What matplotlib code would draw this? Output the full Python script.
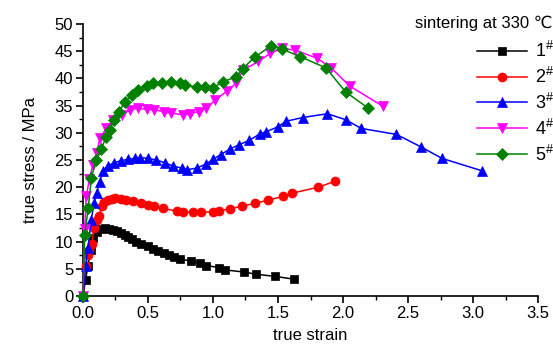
import matplotlib
matplotlib.use("Agg")
import matplotlib.pyplot as plt
from matplotlib.ticker import MultipleLocator

plt.rcParams['font.family'] = ['Liberation Sans', 'DejaVu Sans']
plt.rcParams['mathtext.fontset'] = 'custom'
plt.rcParams['mathtext.rm'] = 'Liberation Sans'

# Series 1#
x1 = [0, 0.02, 0.038, 0.06, 0.08, 0.11, 0.14, 0.17, 0.20, 0.23, 0.26, 0.29, 0.32, 0.35, 0.38,
      0.41, 0.45, 0.50, 0.54, 0.58, 0.62, 0.66, 0.70, 0.75, 0.83, 0.90, 0.95, 1.05, 1.09,
      1.24, 1.33, 1.48, 1.62]
y1 = [0, 3.0, 5.5, 8.5, 10.6, 11.8, 12.3, 12.5, 12.4, 12.2, 11.9, 11.6, 11.2, 10.8, 10.4,
      10.0, 9.6, 9.1, 8.7, 8.3, 7.9, 7.5, 7.2, 6.8, 6.4, 6.0, 5.6, 5.2, 4.8,
      4.4, 4.0, 3.6, 3.1]

# Series 2#
x2 = [0, 0.02, 0.035, 0.05, 0.067, 0.085, 0.105, 0.125, 0.145, 0.165, 0.19, 0.22, 0.25,
      0.29, 0.33, 0.385, 0.45, 0.50, 0.55, 0.615, 0.72, 0.77, 0.85, 0.91, 1.0, 1.05, 1.13,
      1.22, 1.32, 1.42, 1.54, 1.61, 1.81, 1.94]
y2 = [0, 5.5, 7.5, 8.5, 9.5, 12.5, 14.0, 14.7, 16.5, 17.2, 17.6, 17.9, 18.0,
      17.9, 17.7, 17.4, 17.1, 16.8, 16.5, 16.1, 15.6, 15.5, 15.4, 15.4, 15.5, 15.7, 16.0,
      16.5, 17.0, 17.6, 18.3, 18.9, 20.0, 21.1]

# Series 3#
x3 = [0, 0.02, 0.038, 0.064, 0.085, 0.105, 0.128, 0.155, 0.19, 0.24, 0.295, 0.35, 0.40,
      0.44, 0.50, 0.56, 0.63, 0.69, 0.76, 0.80, 0.875, 0.95, 1.0, 1.06, 1.13, 1.2, 1.28,
      1.36, 1.41, 1.50, 1.56, 1.69, 1.88, 2.02, 2.14, 2.41, 2.6, 2.76, 3.07]
y3 = [0, 5.5, 8.8, 14.0, 17.0, 19.0, 21.0, 23.0, 23.9, 24.5, 24.9, 25.1, 25.3,
      25.4, 25.3, 25.0, 24.5, 23.9, 23.5, 23.2, 23.5, 24.3, 25.1, 26.0, 27.0, 27.8, 28.6,
      29.8, 30.2, 31.1, 32.1, 32.8, 33.5, 32.4, 30.8, 29.7, 27.4, 25.3, 23.0]

# Series 4#
x4 = [0, 0.013, 0.025, 0.05, 0.075, 0.105, 0.13, 0.18, 0.233, 0.30, 0.36, 0.425, 0.49,
      0.55, 0.62, 0.68, 0.77, 0.82, 0.89, 0.95, 1.015, 1.105, 1.18, 1.23, 1.35, 1.44, 1.53,
      1.63, 1.80, 1.91, 2.05, 2.305]
y4 = [0, 12.4, 18.3, 21.5, 24.0, 26.2, 29.0, 30.8, 32.4, 33.3, 34.2, 34.5, 34.3,
      34.2, 33.9, 33.6, 33.3, 33.5, 33.9, 34.5, 36.0, 37.6, 39.1, 41.5, 43.1, 44.6, 45.5,
      45.2, 43.7, 41.9, 38.6, 34.9]

# Series 5#
x5 = [0, 0.013, 0.04, 0.064, 0.10, 0.14, 0.18, 0.205, 0.24, 0.28, 0.32, 0.375, 0.425,
      0.49, 0.54, 0.605, 0.68, 0.75, 0.785, 0.875, 0.94, 1.0, 1.08, 1.18, 1.23, 1.32, 1.45,
      1.53, 1.67, 1.87, 2.02, 2.19]
y5 = [0, 11.2, 16.1, 21.6, 25.0, 27.0, 29.3, 30.5, 32.4, 33.9, 35.6, 37.0, 37.9,
      38.6, 39.1, 39.1, 39.4, 39.1, 38.8, 38.4, 38.4, 38.3, 39.4, 40.3, 41.8, 43.9, 46.0,
      45.4, 44.0, 41.9, 37.5, 34.6]

labels = ['1', '2', '3', '4', '5']
colors = ['black', 'red', 'blue', 'magenta', 'green']
markers = ['s', 'o', '^', 'v', 'D']
msizes = [5.8, 6.5, 7, 7, 6]
xs = [x1, x2, x3, x4, x5]
ys = [y1, y2, y3, y4, y5]

fig = plt.figure(figsize=(5.53, 3.47), dpi=100)
ax = fig.add_axes([0.150, 0.147, 0.823, 0.784])

handles = []
for x, y, c, m, ms, lab in zip(xs, ys, colors, markers, msizes, labels):
    h, = ax.plot(x, y, color=c, marker=m, markersize=ms, linewidth=1.1,
                 markeredgewidth=0.5, markeredgecolor=c,
                 label=r'$\mathrm{' + lab + r'}^{\#}$', clip_on=False, zorder=3)
    handles.append(h)

ax.set_xlim(0, 3.5)
ax.set_ylim(0, 50)
ax.xaxis.set_minor_locator(MultipleLocator(0.25))
ax.yaxis.set_major_locator(MultipleLocator(5))
ax.yaxis.set_minor_locator(MultipleLocator(2.5))
ax.set_xticks([0, 0.5, 1.0, 1.5, 2.0, 2.5, 3.0, 3.5])
ax.set_xticklabels(['0.0', '0.5', '1.0', '1.5', '2.0', '2.5', '3.0', '3.5'])
ax.spines['top'].set_visible(False)
ax.spines['right'].set_visible(False)
for s in ['left', 'bottom']:
    ax.spines[s].set_linewidth(1.2)
ax.tick_params(which='major', direction='out', length=5, width=1.2, labelsize=12, pad=2)
ax.tick_params(which='minor', direction='out', length=3, width=1.0)
ax.set_xlabel('true strain', fontsize=12, labelpad=5)
ax.set_ylabel('true stress / MPa', fontsize=12, labelpad=12)

fig.text(0.998, 0.933, 'sintering at 330 \u2103', ha='right', va='center', fontsize=12)
leg = ax.legend(handles=handles, loc='upper left', bbox_to_anchor=(0.846, 0.908),
                bbox_transform=fig.transFigure, frameon=False, fontsize=13,
                handlelength=2.75, handletextpad=0.45, labelspacing=0.32, borderpad=0)

fig.savefig('out.png', dpi=100)
